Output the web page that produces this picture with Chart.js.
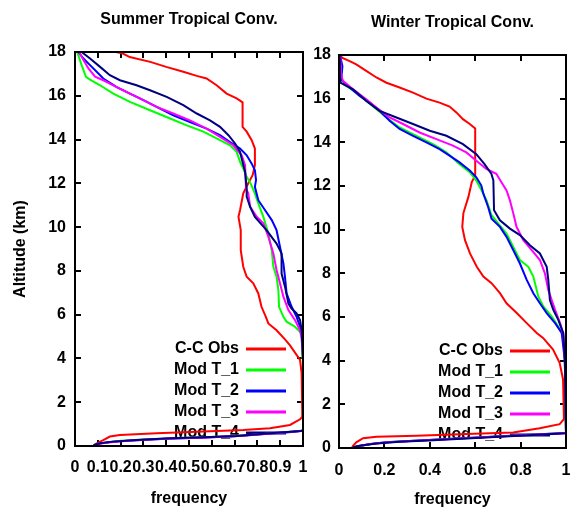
<!DOCTYPE html>
<html>
<head>
<meta charset="utf-8">
<script src="https://cdn.jsdelivr.net/npm/chart.js@4.4.1/dist/chart.umd.min.js"></script>
<style>
html,body{margin:0;padding:0;background:#fff;width:574px;height:509px;overflow:hidden}
#w1{position:absolute;left:0;top:0;width:310px;height:509px}
#w2{position:absolute;left:310px;top:0;width:264px;height:509px}
canvas{display:block}
</style>
</head>
<body>
<div id="w1"><canvas id="c1" width="310" height="509"></canvas></div>
<div id="w2"><canvas id="c2" width="264" height="509"></canvas></div>
<script>
// ---- labels / ticks ----
const seriesLabels = ['C-C Obs', 'Mod T_1', 'Mod T_2', 'Mod T_3', 'Mod T_4'];
const seriesColors = ['#ff0000', '#00ff00', '#0000ff', '#ff00ff', '#000080'];
const altTicks = [0, 2, 4, 6, 8, 10, 12, 14, 16, 18];
const summerFreqTicks = [0, 0.1, 0.2, 0.3, 0.4, 0.5, 0.6, 0.7, 0.8, 0.9, 1];
const winterFreqTicks = [0, 0.2, 0.4, 0.6, 0.8, 1];

// ---- Summer Tropical Conv. ----
const summerObsAlt  = [18.0, 17.93, 17.77, 17.55, 17.32, 17.10, 16.91, 16.79, 16.48, 16.10, 15.88, 15.70, 14.58, 14.36, 13.97, 13.59, 12.83, 12.37, 12.00, 11.54, 10.78, 10.47, 9.86, 8.95, 8.19, 7.73, 7.43, 6.97, 6.36, 5.90, 5.60, 5.29, 4.87, 4.60, 3.93, 3.32, 1.34, 1.22, 0.96, 0.81, 0.73, 0.66, 0.58, 0.50, 0.43, 0.27, 0.12, 0.04];
const summerObsFreq = [0.18, 0.21, 0.24, 0.33, 0.40, 0.475, 0.534, 0.577, 0.621, 0.665, 0.709, 0.735, 0.735, 0.753, 0.775, 0.789, 0.789, 0.779, 0.760, 0.738, 0.724, 0.717, 0.727, 0.727, 0.738, 0.753, 0.782, 0.804, 0.818, 0.837, 0.848, 0.884, 0.921, 0.943, 0.987, 0.994, 0.997, 0.987, 0.943, 0.855, 0.738, 0.563, 0.358, 0.197, 0.153, 0.124, 0.095, 0.083];

const summerT1Alt  = [18.0, 17.40, 16.87, 16.74, 16.48, 16.10, 15.72, 15.34, 14.96, 14.65, 14.36, 14.05, 13.74, 13.44, 12.98, 12.68, 12.30, 12.00, 11.54, 11.08, 10.47, 9.71, 8.95, 8.19, 7.73, 7.12, 6.36, 5.90, 5.68, 5.45, 5.14, 4.10, 3.90, 0.75, 0.71, 0.61, 0.49, 0.41, 0.36, 0.30, 0.24, 0.14, 0.06];
const summerT1Freq = [0.010, 0.029, 0.048, 0.066, 0.110, 0.168, 0.241, 0.329, 0.417, 0.490, 0.563, 0.621, 0.680, 0.709, 0.724, 0.738, 0.753, 0.770, 0.789, 0.804, 0.826, 0.848, 0.863, 0.870, 0.884, 0.892, 0.895, 0.914, 0.928, 0.965, 0.994, 0.997, 1.0, 1.0, 1.0, 0.90, 0.75, 0.60, 0.45, 0.30, 0.20, 0.12, 0.085];

const summerT2Alt  = [18.0, 17.70, 17.40, 17.10, 16.79, 16.40, 16.10, 15.80, 15.49, 15.11, 14.80, 14.50, 14.20, 13.89, 13.59, 13.28, 12.90, 12.60, 12.15, 11.84, 11.23, 10.78, 10.32, 9.86, 9.10, 8.34, 7.73, 6.97, 6.36, 5.90, 5.45, 5.00, 4.00, 0.72, 0.70, 0.64, 0.52, 0.44, 0.38, 0.33, 0.25, 0.18, 0.10, 0.03];
const summerT2Freq = [0.015, 0.037, 0.066, 0.095, 0.124, 0.183, 0.241, 0.300, 0.358, 0.431, 0.504, 0.577, 0.636, 0.680, 0.724, 0.753, 0.775, 0.789, 0.794, 0.789, 0.804, 0.833, 0.863, 0.884, 0.899, 0.914, 0.921, 0.928, 0.950, 0.972, 0.987, 0.999, 1.0, 1.0, 1.0, 0.95, 0.80, 0.70, 0.55, 0.40, 0.25, 0.15, 0.10, 0.08];

const summerT3Alt  = [18.0, 17.63, 17.25, 16.87, 16.71, 16.40, 16.10, 15.80, 15.49, 15.19, 14.88, 14.50, 14.12, 13.74, 13.28, 12.83, 11.76, 11.54, 10.93, 10.47, 10.17, 9.56, 8.80, 8.04, 7.43, 6.82, 6.21, 5.75, 5.29, 4.91, 4.00, 0.71, 0.70, 0.60, 0.48, 0.40, 0.35, 0.28, 0.22, 0.12, 0.05];
const summerT3Freq = [0.018, 0.037, 0.059, 0.088, 0.124, 0.183, 0.241, 0.300, 0.358, 0.431, 0.504, 0.577, 0.636, 0.694, 0.731, 0.746, 0.750, 0.760, 0.768, 0.797, 0.826, 0.848, 0.870, 0.884, 0.899, 0.914, 0.936, 0.965, 0.987, 0.994, 1.0, 1.0, 1.0, 0.90, 0.75, 0.60, 0.45, 0.30, 0.20, 0.12, 0.09];

const summerT4Alt  = [18.0, 17.70, 17.32, 16.94, 16.71, 16.48, 16.25, 15.95, 15.57, 15.19, 14.88, 14.58, 14.20, 13.82, 13.44, 13.13, 12.52, 11.76, 11.39, 10.93, 10.47, 9.86, 9.25, 8.80, 7.88, 7.28, 6.51, 6.28, 6.06, 5.75, 5.29, 4.00, 0.72, 0.69, 0.58, 0.46, 0.40, 0.35, 0.27, 0.20, 0.12, 0.04];
const summerT4Freq = [0.029, 0.066, 0.110, 0.153, 0.197, 0.270, 0.329, 0.402, 0.475, 0.534, 0.592, 0.636, 0.673, 0.702, 0.724, 0.731, 0.746, 0.753, 0.753, 0.768, 0.789, 0.840, 0.884, 0.906, 0.906, 0.921, 0.936, 0.950, 0.972, 0.987, 0.994, 1.0, 1.0, 0.99, 0.855, 0.709, 0.563, 0.417, 0.270, 0.168, 0.110, 0.083];

// ---- Winter Tropical Conv. ----
const winterObsAlt  = [17.95, 17.87, 17.72, 17.57, 17.27, 16.97, 16.73, 16.51, 16.28, 16.00, 15.82, 15.64, 15.37, 15.06, 14.84, 14.64, 12.48, 12.18, 11.50, 10.76, 10.13, 9.52, 8.91, 8.30, 7.85, 7.55, 7.09, 6.63, 6.18, 5.72, 5.27, 5.04, 4.51, 3.90, 3.14, 1.32, 1.09, 0.90, 0.71, 0.64, 0.56, 0.52, 0.45, 0.26, 0.10, 0.02];
const winterObsFreq = [0.008, 0.015, 0.047, 0.076, 0.120, 0.165, 0.209, 0.267, 0.326, 0.385, 0.443, 0.487, 0.517, 0.546, 0.576, 0.600, 0.600, 0.585, 0.570, 0.548, 0.543, 0.555, 0.577, 0.607, 0.636, 0.672, 0.709, 0.738, 0.783, 0.827, 0.871, 0.899, 0.943, 0.972, 0.987, 0.991, 0.972, 0.884, 0.767, 0.561, 0.341, 0.165, 0.106, 0.076, 0.062, 0.058];

const winterT1Alt  = [17.95, 16.73, 16.58, 16.28, 15.90, 15.52, 15.14, 14.68, 14.30, 13.92, 13.54, 13.00, 12.63, 12.25, 11.80, 11.34, 10.66, 10.28, 9.82, 9.06, 8.61, 8.30, 7.85, 6.94, 6.48, 6.03, 5.57, 5.12, 4.00, 0.70, 0.66, 0.58, 0.50, 0.42, 0.34, 0.27, 0.19, 0.09, 0.02];
const winterT1Freq = [0.003, 0.010, 0.032, 0.076, 0.120, 0.165, 0.209, 0.267, 0.341, 0.414, 0.473, 0.531, 0.576, 0.605, 0.628, 0.650, 0.672, 0.702, 0.738, 0.775, 0.797, 0.834, 0.856, 0.878, 0.900, 0.937, 0.966, 0.988, 0.995, 1.0, 0.95, 0.80, 0.65, 0.50, 0.35, 0.22, 0.15, 0.09, 0.07];

const winterT2Alt  = [17.95, 17.49, 16.88, 16.51, 16.13, 15.82, 15.44, 14.99, 14.61, 14.30, 14.00, 13.69, 13.39, 13.08, 12.71, 12.40, 12.02, 11.65, 11.04, 10.50, 10.13, 9.67, 9.06, 8.45, 7.70, 7.09, 6.63, 6.18, 5.72, 5.27, 4.00, 0.69, 0.65, 0.57, 0.49, 0.41, 0.33, 0.26, 0.18, 0.08, 0.01];
const winterT2Freq = [0.005, 0.015, 0.010, 0.047, 0.091, 0.135, 0.179, 0.223, 0.267, 0.326, 0.385, 0.443, 0.487, 0.531, 0.576, 0.605, 0.627, 0.636, 0.657, 0.672, 0.709, 0.738, 0.768, 0.797, 0.827, 0.856, 0.885, 0.915, 0.952, 0.981, 0.995, 1.0, 0.93, 0.78, 0.63, 0.48, 0.33, 0.21, 0.14, 0.08, 0.06];

const winterT3Alt  = [17.95, 17.04, 16.81, 16.43, 15.97, 15.59, 15.14, 14.84, 14.45, 14.15, 13.85, 13.54, 13.16, 12.78, 12.56, 12.18, 11.80, 11.34, 10.74, 10.13, 9.52, 9.06, 8.61, 8.00, 7.24, 6.78, 6.33, 5.72, 5.19, 4.00, 0.69, 0.64, 0.56, 0.48, 0.40, 0.32, 0.25, 0.17, 0.07, 0.02];
const winterT3Freq = [0.005, 0.010, 0.018, 0.062, 0.120, 0.165, 0.223, 0.282, 0.355, 0.429, 0.502, 0.561, 0.605, 0.649, 0.693, 0.715, 0.738, 0.753, 0.768, 0.782, 0.812, 0.849, 0.885, 0.907, 0.922, 0.937, 0.952, 0.974, 0.988, 0.995, 1.0, 0.92, 0.77, 0.62, 0.47, 0.32, 0.20, 0.13, 0.08, 0.065];

const winterT4Alt  = [17.95, 16.73, 16.43, 15.90, 15.44, 15.14, 14.84, 14.53, 14.30, 13.92, 13.46, 13.00, 12.56, 12.26, 10.89, 10.43, 10.05, 9.75, 9.29, 8.91, 8.30, 7.70, 6.78, 6.33, 5.87, 5.27, 4.00, 0.68, 0.60, 0.52, 0.44, 0.36, 0.29, 0.21, 0.10, 0.03];
const winterT4Freq = [0.003, 0.006, 0.062, 0.120, 0.179, 0.253, 0.326, 0.400, 0.473, 0.546, 0.605, 0.641, 0.671, 0.680, 0.683, 0.709, 0.753, 0.797, 0.841, 0.885, 0.915, 0.922, 0.929, 0.944, 0.966, 0.988, 0.995, 1.0, 0.855, 0.708, 0.561, 0.414, 0.267, 0.165, 0.091, 0.062];

// ---- build ----
Chart.defaults.font.family = "'Liberation Sans', Arial, Helvetica, sans-serif";
Chart.defaults.font.size = 16;
Chart.defaults.font.weight = 'bold';
Chart.defaults.color = '#000';

function buildDatasets(freqs, alts) {
  return seriesLabels.map((label, i) => ({
    label: label,
    data: freqs[i].map((f, j) => ({x: f, y: alts[i][j]})),
    borderColor: seriesColors[i],
    backgroundColor: seriesColors[i],
    borderWidth: 2,
    pointRadius: 0,
    pointHoverRadius: 0,
    showLine: true,
    fill: false,
    tension: 0,
    order: seriesLabels.length - 1 - i
  }));
}

// place the in-plot legend at the lower right of the plot area
const legendShift = {
  id: 'legendShift',
  afterLayout(chart, args, opts) {
    const lg = chart.legend;
    if (!lg) return;
    const ca = chart.chartArea;
    const pad = lg.options.labels.padding;
    lg.left = ca.right - opts.gap + pad - lg.width;
    lg.right = lg.left + lg.width;
    lg.top = ca.top;
    lg.bottom = ca.bottom;
    lg.height = ca.bottom - ca.top;
  }
};

const gridCfg = {display: true, drawOnChartArea: false, drawTicks: true, tickLength: -6,
  lineWidth: 2, tickWidth: 2, color: '#000', tickColor: '#000'};
const borderCfg = {display: true, color: '#000', width: 2, z: 1};
const fmt = v => String(Math.round(v * 10) / 10);

function makeChart(id, p) {
  const tickSetter = arr => (s => { s.ticks = arr.map(v => ({value: v})); });
  return new Chart(document.getElementById(id), {
    type: 'scatter',
    data: {datasets: p.datasets},
    options: {
      responsive: false,
      animation: false,
      devicePixelRatio: 1,
      events: [],
      layout: {padding: {left: 0, right: p.rightPad, top: 0, bottom: 0}},
      plugins: {
        title: {display: true, text: p.title, fullSize: false, color: '#000',
          font: {size: 16, weight: 'bold'}, padding: {top: p.titleTop, bottom: p.titleBottom}},
        legend: {display: true, position: 'chartArea', align: 'end', rtl: true, textDirection: 'ltr', reverse: true,
          labels: {boxWidth: 38, boxHeight: 1, padding: 5, color: '#000', textAlign: 'left',
            font: {size: 16, weight: 'bold'}}},
        tooltip: {enabled: false},
        legendShift: {gap: p.legendGap}
      },
      scales: {
        x: {type: 'linear', position: 'bottom', min: 0, max: 1,
          afterBuildTicks: tickSetter(p.xTicks),
          ticks: {autoSkip: false, maxRotation: 0, minRotation: 0, padding: p.xTickPad, callback: fmt},
          grid: gridCfg, border: borderCfg,
          title: {display: true, text: 'frequency', padding: {top: 0, bottom: p.xTitleBottom}},
          afterFit: s => { s.height = p.xAxisH; s.paddingLeft = 4; s.paddingRight = 4; }},
        x2: {type: 'linear', position: 'top', min: 0, max: 1,
          afterBuildTicks: tickSetter(p.xTicks),
          ticks: {display: false}, grid: gridCfg, border: borderCfg,
          afterFit: s => { s.height = 0; }},
        y: {type: 'linear', position: 'left', min: 0, max: 18,
          afterBuildTicks: tickSetter(altTicks),
          ticks: {padding: p.yTickPad, callback: fmt},
          grid: gridCfg, border: borderCfg,
          title: {display: !!p.yTitle, text: p.yTitle || '', padding: {top: 11, bottom: 0}},
          afterFit: s => { s.width = p.yAxisW; s.paddingTop = 8; s.paddingBottom = 8; }},
        y2: {type: 'linear', position: 'right', min: 0, max: 18,
          afterBuildTicks: tickSetter(altTicks),
          ticks: {display: false}, grid: gridCfg, border: borderCfg,
          afterFit: s => { s.width = 0; }}
      }
    },
    plugins: [legendShift]
  });
}

makeChart('c1', {
  datasets: buildDatasets(
    [summerObsFreq, summerT1Freq, summerT2Freq, summerT3Freq, summerT4Freq],
    [summerObsAlt, summerT1Alt, summerT2Alt, summerT3Alt, summerT4Alt]),
  title: 'Summer Tropical Conv.', titleTop: 10, titleBottom: 22.8,
  rightPad: 7, yAxisW: 75, xAxisH: 63, xTicks: summerFreqTicks,
  xTickPad: 18, yTickPad: 15, xTitleBottom: 1, yTitle: 'Altitude (km)', legendGap: 18
});

makeChart('c2', {
  datasets: buildDatasets(
    [winterObsFreq, winterT1Freq, winterT2Freq, winterT3Freq, winterT4Freq],
    [winterObsAlt, winterT1Alt, winterT2Alt, winterT3Alt, winterT4Alt]),
  title: 'Winter Tropical Conv.', titleTop: 12.9, titleBottom: 22.9,
  rightPad: 8, yAxisW: 29, xAxisH: 61, xTicks: winterFreqTicks,
  xTickPad: 19, yTickPad: 14, xTitleBottom: 0, yTitle: null, legendGap: 17
});
</script>
</body>
</html>
